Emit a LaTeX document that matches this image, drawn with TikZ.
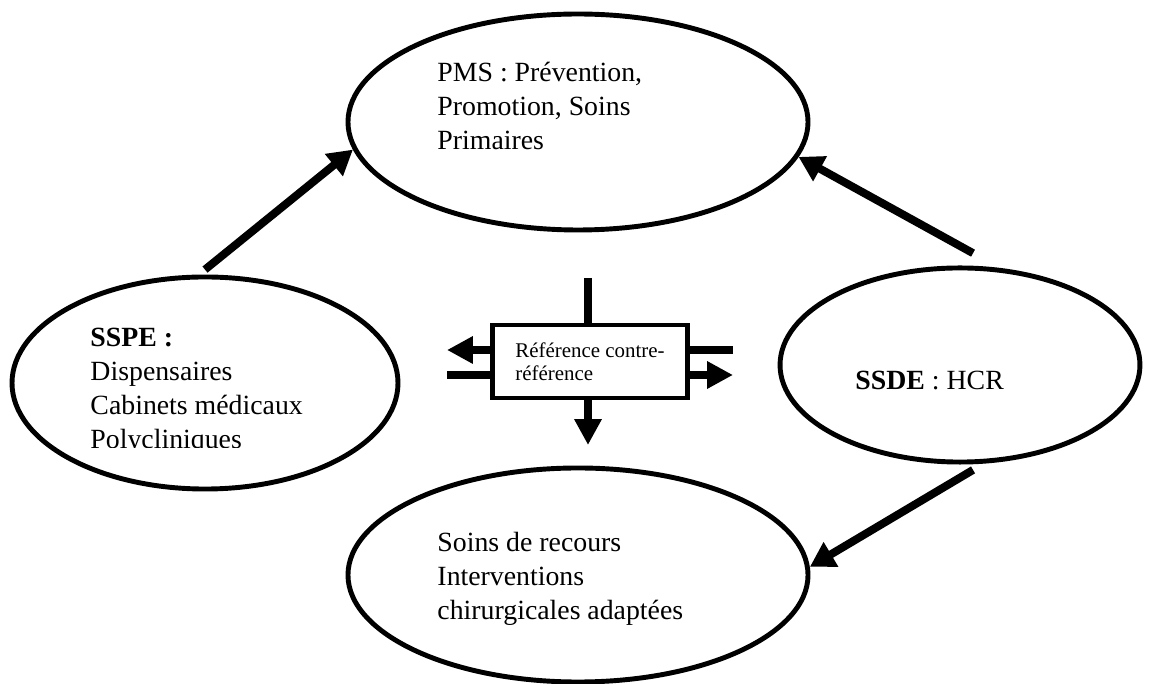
\documentclass[tikz,border=0pt]{standalone}
\usepackage{fontspec}
\setmainfont{Liberation Serif}
\usetikzlibrary{shapes.geometric,arrows.meta}
\tikzset{
  bubble/.style={draw=black, ellipse, line width=2pt, inner sep=0pt},
  refbox/.style={draw=black, rectangle, line width=2pt, inner sep=0pt, align=left,
    minimum width=78.9pt, minimum height=29.7pt, font=\fontsize{8.5}{9.4}\selectfont},
  bigarrow/.style={line width=3.25pt, -{Triangle[length=10pt,width=11pt]}},
  smallarrow/.style={line width=3.25pt, -{Triangle[length=10.5pt,width=10.5pt]}},
  plainline/.style={line width=3.25pt},
  label/.style={anchor=base west, inner sep=0pt, font=\fontsize{11.3}{13.7}\selectfont}
}
\begin{document}
\begin{tikzpicture}[x=0.4065pt, y=-0.4065pt]
\useasboundingbox (0,0) rectangle (1151,684);
% ellipses
\node[bubble, minimum width=187pt, minimum height=87.8pt] (pms) at (578,122) {};
\node[bubble, minimum width=156.9pt, minimum height=86.2pt] (sspe) at (205,383) {};
\node[bubble, minimum width=146.3pt, minimum height=78.9pt] (ssde) at (960,365) {};
\node[bubble, minimum width=187pt, minimum height=87pt] (soins) at (578,575) {};
% texts
\node[label] (pmstext) at (437,82) {\begin{tabular}[t]{@{}l@{}}PMS : Prévention,\\Promotion, Soins\\Primaires\end{tabular}};
\begin{scope}
\clip (0,0) rectangle (1151,448);
\node[label] (sspetext) at (90,347) {\begin{tabular}[t]{@{}l@{}}\textbf{SSPE :}\\Dispensaires\\Cabinets médicaux\\Polycliniques\end{tabular}};
\end{scope}
\node[label] (ssdetext) at (855,390) {\textbf{SSDE} : HCR};
\node[label] (soinstext) at (437,552) {\begin{tabular}[t]{@{}l@{}}Soins de recours\\Interventions\\chirurgicales adaptées\end{tabular}};
% central box
\node[refbox] (ref) at (590,361.5) {Référence contre-\\référence\hspace*{2.5pt}};
% free ends
\coordinate (topend) at (588,278);
\coordinate (downend) at (588,445);
\coordinate (lup) at (447,350);
\coordinate (llow) at (447,375);
\coordinate (rup) at (733,350);
\coordinate (rlow) at (733,375);
% central connectors
\draw[plainline] (topend) -- (topend |- ref.north);
\draw[smallarrow] (downend |- ref.south) -- (downend);
\draw[smallarrow] (ref.west |- lup) -- (lup);
\draw[plainline] (llow) -- (ref.west |- llow);
\draw[plainline] (ref.east |- rup) -- (rup);
\draw[smallarrow] (ref.east |- rlow) -- (rlow);
% big arrows
\draw[bigarrow] ([yshift=2pt]sspe.north) -- (pms.187.4);
\draw[bigarrow] ([xshift=5.3pt,yshift=5pt]ssde.north) -- (pms.351);
\draw[bigarrow] ([xshift=5.3pt,yshift=-2.2pt]ssde.south) -- (soins.2.5);
\end{tikzpicture}
\end{document}
